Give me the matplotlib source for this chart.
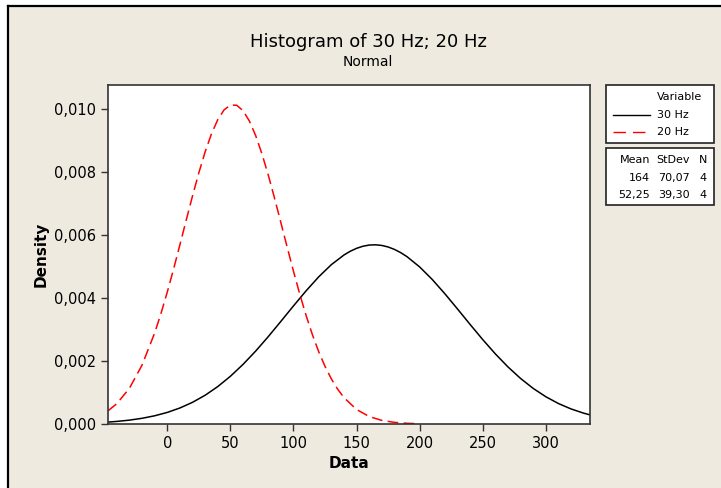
import numpy as np
import matplotlib.pyplot as plt
from matplotlib.patches import Rectangle
from matplotlib.lines import Line2D

# values
x30 = [-47, -40, -30, -20, -10, 0, 10, 20, 30, 40, 50, 60, 70, 80, 90, 100,
       110, 120, 130, 140, 145, 150, 155, 160, 165, 170, 175, 180, 185, 190,
       200, 210, 220, 230, 240, 250, 260, 270, 280, 290, 300, 310, 320, 330, 335]
y30 = [0.000061, 0.000082, 0.000123, 0.000181, 0.000261, 0.000368, 0.000509,
       0.000689, 0.000914, 0.001189, 0.001516, 0.001893, 0.002315, 0.002775,
       0.003260, 0.003752, 0.004231, 0.004675, 0.005062, 0.005369, 0.005488,
       0.005581, 0.005647, 0.005685, 0.005693, 0.005673, 0.005624, 0.005547,
       0.005444, 0.005315, 0.004990, 0.004590, 0.004137, 0.003654, 0.003162,
       0.002681, 0.002227, 0.001813, 0.001446, 0.001130, 0.000866, 0.000650,
       0.000478, 0.000344, 0.000290]

x20 = [-47, -40, -30, -20, -10, -5, 0, 5, 10, 15, 20, 25, 30, 35, 40, 45, 50,
       55, 60, 65, 70, 75, 80, 85, 90, 95, 100, 105, 110, 115, 120, 125, 130,
       135, 140, 150, 160, 170, 180, 190, 200]
y20 = [0.000418, 0.000646, 0.001136, 0.001873, 0.002895, 0.003513, 0.004194,
       0.004927, 0.005696, 0.006478, 0.007249, 0.007982, 0.008648, 0.009219,
       0.009670, 0.009980, 0.010134, 0.010126, 0.009956, 0.009630, 0.009167,
       0.008585, 0.007912, 0.007174, 0.006399, 0.005618, 0.004852, 0.004123,
       0.003448, 0.002837, 0.002297, 0.001830, 0.001434, 0.001106, 0.000840,
       0.000460, 0.000237, 0.000114, 0.000052, 0.000022, 0.000009]

series = ['30 Hz', '20 Hz']
means = ['164', '52,25']
stdevs = ['70,07', '39,30']
counts = ['4', '4']

xticks = [0, 50, 100, 150, 200, 250, 300]
yticks = [0.000, 0.002, 0.004, 0.006, 0.008, 0.010]

bg = '#eeeae0'
W, H = 721, 488

fig = plt.figure(figsize=(7.21, 4.88), dpi=100, facecolor='white')
fig.patches.append(Rectangle((8 / W, 0), 1, 1 - 6 / H, transform=fig.transFigure,
                             facecolor=bg, edgecolor='none', zorder=-2))
fig.add_artist(Line2D([8 / W, 8 / W], [0, 1 - 6 / H], color='black', lw=1.6,
                      transform=fig.transFigure))
fig.add_artist(Line2D([8 / W, 1], [1 - 6 / H, 1 - 6 / H], color='black', lw=1.6,
                      transform=fig.transFigure))

ax = fig.add_axes([108 / W, 1 - 424 / H, (590 - 108) / W, (424 - 85) / H])
ax.set_facecolor('white')
ax.plot(x30, y30, color='black', lw=1.1)
ax.plot(x20, y20, color='red', lw=1.1, dashes=(7, 3.5))
ax.set_xlim(-47, 335)
ax.set_ylim(0, 0.01077)
ax.set_xticks(xticks)
ax.set_yticks(yticks)
ax.set_yticklabels([('%.3f' % v).replace('.', ',') for v in yticks])
ax.tick_params(labelsize=10.5, length=5, width=1, color='#333333')
for s in ax.spines.values():
    s.set_color('#333333')
    s.set_linewidth(1.2)
ax.set_xlabel('Data', fontsize=11, fontweight='bold', labelpad=4)
ax.set_ylabel('Density', fontsize=11, fontweight='bold', labelpad=4)

fig.text(368 / W, 1 - 42 / H, 'Histogram of 30 Hz; 20 Hz', ha='center', va='center',
         fontsize=13)
fig.text(368 / W, 1 - 62 / H, 'Normal', ha='center', va='center', fontsize=10)

# legend box
fig.patches.append(Rectangle((606 / W, 1 - 143 / H), 108 / W, 58 / H,
                             transform=fig.transFigure, facecolor='white',
                             edgecolor='#222222', lw=1.2))
fig.text(657 / W, 1 - 97 / H, 'Variable', fontsize=8, va='center')
fig.add_artist(Line2D([613 / W, 650 / W], [1 - 115 / H, 1 - 115 / H], color='black',
                      lw=1.0, transform=fig.transFigure))
fig.add_artist(Line2D([613 / W, 650 / W], [1 - 132 / H, 1 - 132 / H], color='red',
                      lw=1.0, dashes=(9, 5), transform=fig.transFigure))
fig.text(657 / W, 1 - 115 / H, series[0], fontsize=8, va='center')
fig.text(657 / W, 1 - 132 / H, series[1], fontsize=8, va='center')

# stats box
fig.patches.append(Rectangle((606 / W, 1 - 205 / H), 108 / W, 57 / H,
                             transform=fig.transFigure, facecolor='white',
                             edgecolor='#222222', lw=1.2))
fig.text(650 / W, 1 - 160 / H, 'Mean', fontsize=8, va='center', ha='right')
fig.text(690 / W, 1 - 160 / H, 'StDev', fontsize=8, va='center', ha='right')
fig.text(707 / W, 1 - 160 / H, 'N', fontsize=8, va='center', ha='right')
for i in range(2):
    yy = 1 - (178 + 17 * i) / H
    fig.text(650 / W, yy, means[i], fontsize=8, va='center', ha='right')
    fig.text(690 / W, yy, stdevs[i], fontsize=8, va='center', ha='right')
    fig.text(707 / W, yy, counts[i], fontsize=8, va='center', ha='right')

fig.savefig('out.png', dpi=100, facecolor='white')
